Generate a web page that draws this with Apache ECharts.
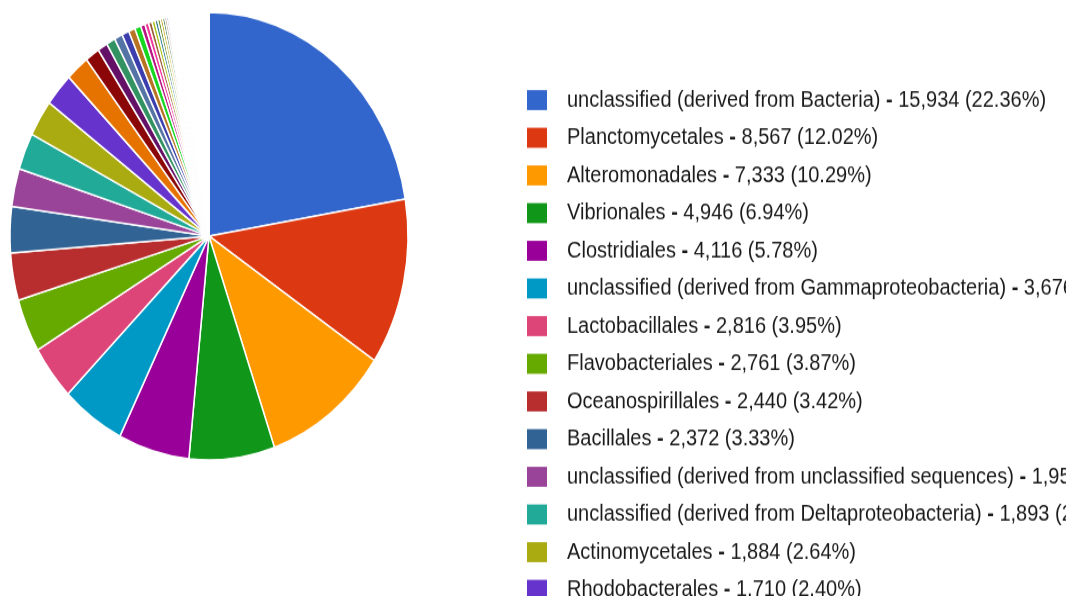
<!DOCTYPE html>
<html>
<head>
<meta charset="utf-8">
<script src="https://cdn.jsdelivr.net/npm/echarts@6/dist/echarts.min.js"></script>
<style>
  html, body { margin: 0; padding: 0; background: #ffffff; overflow: hidden; }
  #wrap { width: 1066px; height: 596px; overflow: hidden; }
  /* the chart is drawn slightly taller than wide */
  #chart { width: 1066px; height: 530px; transform: scaleY(1.1245); transform-origin: 0 0; }
</style>
</head>
<body>
<div id="wrap"><div id="chart"></div></div>
<script>
// Order-level taxonomy counts
const mainOrders = [
  'unclassified (derived from Bacteria)', 'Planctomycetales', 'Alteromonadales', 'Vibrionales',
  'Clostridiales', 'unclassified (derived from Gammaproteobacteria)', 'Lactobacillales',
  'Flavobacteriales', 'Oceanospirillales', 'Bacillales',
  'unclassified (derived from unclassified sequences)', 'unclassified (derived from Deltaproteobacteria)',
  'Actinomycetales', 'Rhodobacterales'
];
const mainCounts = [15934, 8567, 7333, 4946, 4116, 3676, 2816, 2761, 2440, 2372, 1952, 1893, 1884, 1710];

const minorOrders = [
  'Rhizobiales', 'Pseudomonadales', 'Enterobacteriales', 'Bacteroidales',
  'Burkholderiales', 'Sphingomonadales', 'Cytophagales', 'Rhodospirillales'
];
const minorCounts = [1346, 831, 574, 515, 475, 416, 376, 356];

const smallOrders = [
  'Caulobacterales', 'Thiotrichales', 'Verrucomicrobiales', 'Sphingobacteriales',
  'Aeromonadales', 'Pasteurellales', 'Legionellales', 'Campylobacterales',
  'Neisseriales', 'Rhodocyclales', 'Nitrosomonadales', 'Methylophilales',
  'Bdellovibrionales', 'Desulfovibrionales', 'Desulfuromonadales', 'Syntrophobacterales'
];
const smallCounts = [250, 220, 200, 180, 160, 150, 140, 125, 110, 100, 90, 80, 75, 70, 65, 60];

const rareOrders = [
  'Spirochaetales', 'Fusobacteriales', 'Thermoanaerobacterales', 'Selenomonadales', 'Erysipelotrichales',
  'Bifidobacteriales', 'Coriobacteriales', 'Solirubrobacterales', 'Rubrobacterales', 'Acidimicrobiales',
  'Lentisphaerales', 'Puniceicoccales', 'Opitutales', 'Chlamydiales', 'Gemmatimonadales',
  'Nitrospirales', 'Thermotogales', 'Acidobacteriales', 'Kiloniellales', 'Chlorobiales',
  'Chloroflexales', 'Deinococcales', 'Thermales', 'Aquificales', 'Methanosarcinales',
  'Methanomicrobiales', 'Methanobacteriales', 'Methanococcales', 'Halobacteriales', 'Thermoproteales',
  'Desulfurococcales', 'Sulfolobales', 'Thermococcales', 'Archaeoglobales', 'Nostocales',
  'Chroococcales', 'Oscillatoriales', 'Synechococcales', 'Pleurocapsales', 'Mycoplasmatales',
  'Anaerolineales', 'Herpetosiphonales', 'Dehalococcoidales', 'Rickettsiales', 'Magnetococcales'
];
const rareCounts = [
  58, 57, 56, 55, 54, 53, 52, 51, 50, 50, 49, 49, 48, 48, 47,
  47, 46, 46, 45, 45, 44, 44, 43, 43, 42, 42, 41, 41, 40, 40,
  39, 39, 38, 38, 37, 37, 36, 36, 35, 35, 34, 34, 33, 1, 1
];

const palette = [
  '#3366cc', '#dc3912', '#ff9900', '#109618', '#990099', '#0099c6', '#dd4477', '#66aa00',
  '#b82e2e', '#316395', '#994499', '#22aa99', '#aaaa11', '#6633cc', '#e67300', '#8b0707',
  '#651067', '#329262', '#5574a6', '#3b3eac', '#b77322', '#16d620', '#b91383', '#f4359e',
  '#9c5935', '#a9c413', '#2a778d', '#668d1c', '#bea413', '#0c5922', '#743411'
];

const names = mainOrders.concat(minorOrders, smallOrders, rareOrders);
const counts = mainCounts.concat(minorCounts, smallCounts, rareCounts);
const total = counts.reduce((a, b) => a + b, 0);
const countByName = {};
names.forEach((n, i) => { countByName[n] = counts[i]; });
const rareSet = new Set(rareOrders);

const FONT = 'Arial, "Liberation Sans", sans-serif';

const chart = echarts.init(document.getElementById('chart'), null, { renderer: 'canvas' });
chart.setOption({
  animation: false,
  color: palette,
  legend: {
    orient: 'vertical',
    left: 527,
    top: 79,
    height: 4000,
    padding: 0,
    itemWidth: 20,
    itemHeight: 17.8,
    itemGap: 13.5,
    icon: 'rect',
    selectedMode: false,
    itemStyle: { borderWidth: 0 },
    textStyle: {
      fontFamily: FONT,
      fontSize: 20,
      lineHeight: 20,
      color: '#1a1a1a',
      padding: [0, 0, 0, 15],
      rich: {
        d: { fontWeight: 'bold', fontSize: 20, lineHeight: 20, color: '#1a1a1a', fontFamily: FONT }
      }
    },
    formatter: function (name) {
      const v = countByName[name];
      const pct = (v / total * 100).toFixed(2);
      return name + ' {d|-} ' + v.toLocaleString('en-US') + ' (' + pct + '%)';
    }
  },
  series: [{
    type: 'pie',
    center: [209, 209.9],
    radius: [0, 199],
    startAngle: 90,
    clockwise: true,
    avoidLabelOverlap: false,
    label: { show: false },
    labelLine: { show: false },
    emphasis: { disabled: true },
    itemStyle: { borderColor: '#ffffff', borderWidth: 1.5 },
    data: names.map((n, i) => ({
      name: n,
      value: counts[i],
      itemStyle: rareSet.has(n) ? { borderWidth: 2 } : undefined
    }))
  }]
});
</script>
</body>
</html>
